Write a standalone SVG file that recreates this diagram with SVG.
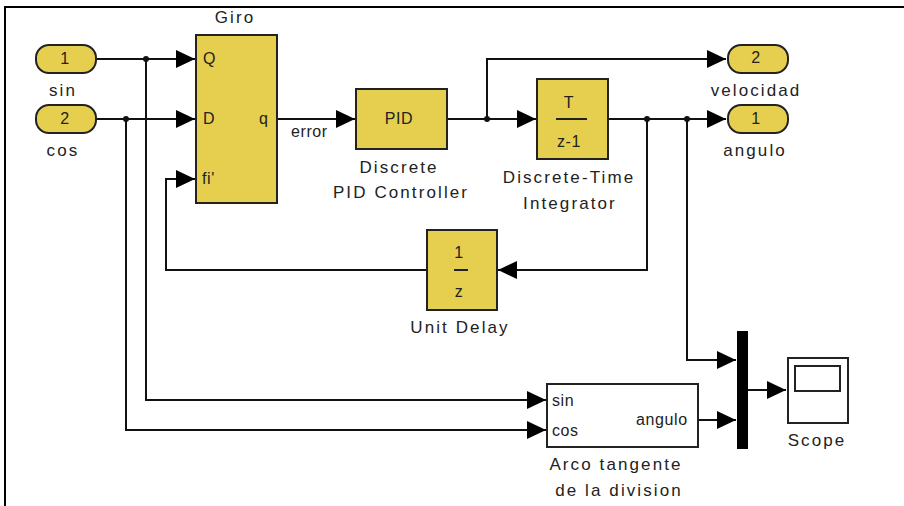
<svg xmlns="http://www.w3.org/2000/svg" width="904" height="506" viewBox="0 0 904 506">
<style>
text{font-family:"Liberation Sans",Arial,sans-serif;font-size:16px;fill:#222;letter-spacing:.6px}
.l{font-size:17px;letter-spacing:2.1px}
.m{text-anchor:middle}
.b{fill:#e6cf4e;stroke:#222;stroke-width:2}
.w{fill:#fff;stroke:#222;stroke-width:2}
.c{fill:none;stroke:#111;stroke-width:2}
.d{fill:#111}
.r{stroke:#222;stroke-width:2}
</style>
<defs>
<marker id="a" markerUnits="userSpaceOnUse" markerWidth="20" markerHeight="20" refX="19" refY="10" orient="auto"><path d="M0 1L19 10L0 19Z" fill="#000"/></marker>
</defs>
<rect width="904" height="506" fill="#fff"/>
<path id="frame" d="M5 506V7H904" fill="none" stroke="#000" stroke-width="2"/>
<g id="connectors">
<path class="c" d="M97 59H195" marker-end="url(#a)"/>
<path class="c" d="M97 119H195" marker-end="url(#a)"/>
<path class="c" d="M146 59V400H546" marker-end="url(#a)"/>
<path class="c" d="M126 119V430H546" marker-end="url(#a)"/>
<path class="c" d="M277 119H355" marker-end="url(#a)"/>
<path class="c" d="M447 119H536" marker-end="url(#a)"/>
<path class="c" d="M487 119V59H726" marker-end="url(#a)"/>
<path class="c" d="M608 119H726" marker-end="url(#a)"/>
<path class="c" d="M647 119V270H498" marker-end="url(#a)"/>
<path class="c" d="M427 270H166V179H195" marker-end="url(#a)"/>
<path class="c" d="M687 119V360H736" marker-end="url(#a)"/>
<path class="c" d="M698 420H736" marker-end="url(#a)"/>
<path class="c" d="M748 390H786" marker-end="url(#a)"/>
<circle class="d" cx="146" cy="59" r="3"/>
<circle class="d" cx="126" cy="119" r="3"/>
<circle class="d" cx="487" cy="119" r="3"/>
<circle class="d" cx="647" cy="119" r="3"/>
<circle class="d" cx="687" cy="119" r="3"/>
</g>
<g id="in1"><rect class="b" x="36" y="45" width="60" height="28" rx="13"/><text class="m" x="65" y="64">1</text><text class="m l" x="63" y="96">sin</text></g>
<g id="in2"><rect class="b" x="36" y="105" width="60" height="28" rx="13"/><text class="m" x="65" y="124">2</text><text class="m l" x="63" y="156">cos</text></g>
<g id="giro"><rect class="b" x="196" y="35" width="81" height="168"/><text class="m l" x="235" y="23">Giro</text><text x="203" y="64">Q</text><text x="203" y="124">D</text><text x="202" y="184">fi'</text><text x="259" y="124">q</text></g>
<text id="error" x="291" y="137">error</text>
<g id="pid"><rect class="b" x="356" y="89" width="91" height="60"/><text class="m" x="399" y="124">PID</text><text class="m l" x="399" y="173">Discrete</text><text class="m l" x="401" y="198">PID Controller</text></g>
<g id="integrator"><rect class="b" x="537" y="79" width="71" height="80"/><text class="m" x="569" y="108">T</text><path class="r" d="M556 119H587"/><text class="m" x="569" y="147">z-1</text><text class="m l" x="569" y="183">Discrete-Time</text><text class="m l" x="570" y="209">Integrator</text></g>
<g id="delay"><rect class="b" x="427" y="230" width="70" height="80"/><text class="m" x="459" y="258">1</text><path class="r" d="M454 270H468"/><text class="m" x="459" y="297">z</text><text class="m l" x="460" y="333">Unit Delay</text></g>
<g id="out2"><rect class="b" x="728" y="45" width="60" height="28" rx="13"/><text class="m" x="756" y="63">2</text><text class="m l" x="756" y="96">velocidad</text></g>
<g id="out1"><rect class="b" x="728" y="105" width="60" height="28" rx="13"/><text class="m" x="756" y="124">1</text><text class="m l" x="755" y="156">angulo</text></g>
<g id="arco"><rect class="w" x="547" y="384" width="151" height="63"/><text x="552" y="406">sin</text><text x="552" y="436">cos</text><text x="636" y="425">angulo</text><text class="m l" x="616" y="470">Arco tangente</text><text class="m l" x="619" y="496">de la division</text></g>
<rect id="mux" x="737" y="331" width="11" height="118" fill="#000"/>
<g id="scope"><rect class="w" x="788" y="358" width="60" height="65"/><rect class="w" x="795" y="366" width="45" height="25"/><text class="m l" x="817" y="446">Scope</text></g>
</svg>
